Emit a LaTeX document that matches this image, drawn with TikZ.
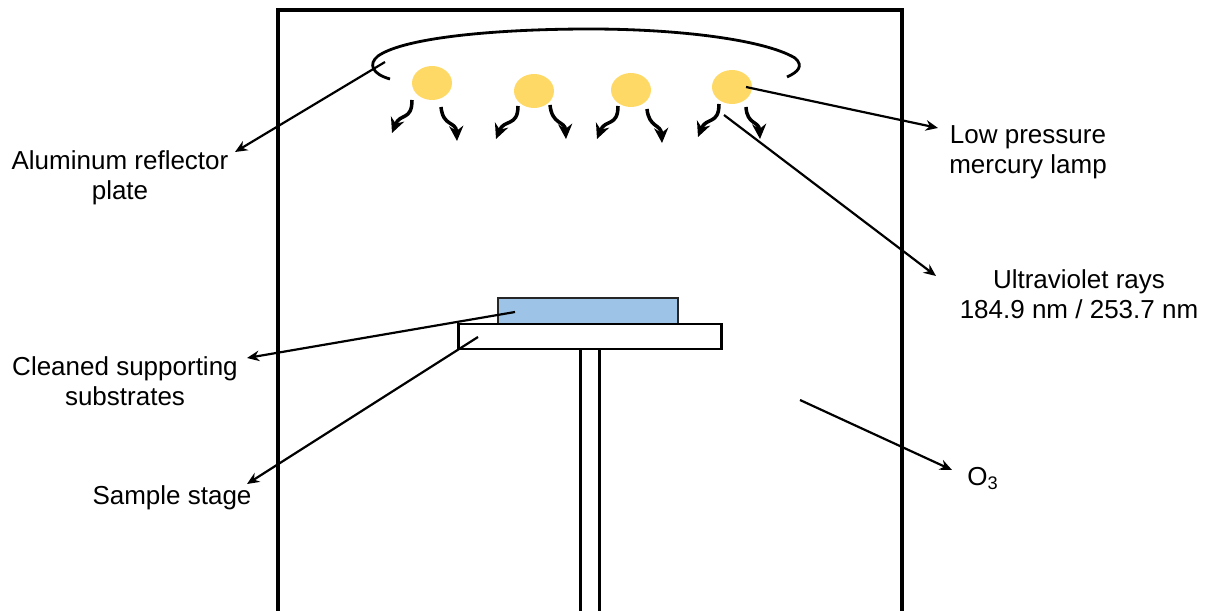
\documentclass[tikz,border=0pt]{standalone}
\usepackage{fontspec}
\setmainfont{Liberation Sans}
\usepackage{xcolor}
\usetikzlibrary{shapes.geometric, arrows.meta, positioning}
\definecolor{lampyellow}{HTML}{FFD966}
\definecolor{substrateblue}{HTML}{9DC3E6}

\begin{document}
\begin{tikzpicture}[
    x=0.02cm, y=-0.02cm,
    wall/.style={line width=2pt, black},
    lamp/.style={ellipse, fill=lampyellow, minimum width=0.8cm, minimum height=0.68cm, inner sep=0pt},
    platebox/.style={rectangle, draw=black, line width=1.7pt, inner sep=0pt},
    subbox/.style={rectangle, draw=black!85, fill=substrateblue, line width=1.1pt, inner sep=0pt},
    ray/.style={-{Stealth[length=8.5pt, width=8pt]}, line width=2pt, black},
    leader/.style={-{Stealth[length=7pt, width=6pt]}, line width=1.25pt, black},
    labelstyle/.style={font=\fontsize{14.8}{17.1}\selectfont, align=center, inner sep=0pt}
]
\useasboundingbox (0,0) rectangle (1207,611);

% === Chamber ===
\coordinate (wallbl) at (278,611);
\coordinate (walltl) at (278,10);
\coordinate (walltr) at (902,10);
\coordinate (wallbr) at (902,611);
\draw[wall] (wallbl) -- (walltl) -- (walltr) -- (wallbr);

% === Reflector ===
\coordinate (reflstart) at (390,79);
\coordinate (reflend) at (787,77);
\draw[line width=1.6pt] (reflstart) .. controls (372,74) and (368,64) .. (378,56)
    .. controls (405,37) and (500,29) .. (590,29)
    .. controls (680,29) and (765,40) .. (795,58)
    .. controls (804,66) and (798,72) .. (reflend);

% === Lamps ===
\node[lamp] (lampa) at (432,83) {};
\node[lamp] (lampb) at (534,91) {};
\node[lamp] (lampc) at (631,90) {};
\node[lamp] (lampd) at (732,87) {};

% === Rays ===
\draw[ray] ([shift={(-20,17)}]lampa.center) .. controls ([shift={(-20,38)}]lampa.center) and ([shift={(-32,30)}]lampa.center) .. ([shift={(-40,50)}]lampa.center);
\draw[ray] ([shift={(9,24)}]lampa.center) .. controls ([shift={(11,44)}]lampa.center) and ([shift={(24,38)}]lampa.center) .. ([shift={(25,58)}]lampa.center);
\draw[ray] ([shift={(-16,15)}]lampb.center) .. controls ([shift={(-16,36)}]lampb.center) and ([shift={(-30,28)}]lampb.center) .. ([shift={(-38,48)}]lampb.center);
\draw[ray] ([shift={(16,14)}]lampb.center) .. controls ([shift={(18,34)}]lampb.center) and ([shift={(31,30)}]lampb.center) .. ([shift={(32,48)}]lampb.center);
\draw[ray] ([shift={(-13,16)}]lampc.center) .. controls ([shift={(-13,37)}]lampc.center) and ([shift={(-26,29)}]lampc.center) .. ([shift={(-34,49)}]lampc.center);
\draw[ray] ([shift={(16,19)}]lampc.center) .. controls ([shift={(18,38)}]lampc.center) and ([shift={(30,34)}]lampc.center) .. ([shift={(31,53)}]lampc.center);
\draw[ray] ([shift={(-13,17)}]lampd.center) .. controls ([shift={(-13,38)}]lampd.center) and ([shift={(-26,30)}]lampd.center) .. ([shift={(-34,50)}]lampd.center);
\draw[ray] ([shift={(14,20)}]lampd.center) .. controls ([shift={(15,38)}]lampd.center) and ([shift={(27,34)}]lampd.center) .. ([shift={(28,52)}]lampd.center);

% === Sample stage ===
\coordinate (postla) at (580,349);
\coordinate (postlb) at (580,611);
\coordinate (postra) at (599,349);
\coordinate (postrb) at (599,611);
\draw[platebox] (postla) -- (postlb);
\draw[platebox] (postra) -- (postrb);
\node[subbox, minimum width=3.6cm, minimum height=0.52cm] (substrate) at (588,311) {};
\node[platebox, minimum width=5.28cm, minimum height=0.5cm] (stage) at (590,336.5) {};

% === Labels ===
\node[labelstyle] (refllabel) at (120,178) {Aluminum reflector\\plate};
\node[labelstyle] (lamplabel) at (1028,152) {Low pressure\\mercury lamp};
\node[labelstyle] (uvlabel) at (1079,294) {Ultraviolet rays\\184.9 nm / 253.7 nm};
\node[labelstyle] (sublabel) at (125,381) {Cleaned supporting\\substrates};
\node[labelstyle] (stagelabel) at (172,498) {Sample stage};
\node[labelstyle] (ozonelabel) at (983,479) {O\textsubscript{3}};

% === Leader arrows ===
\coordinate (reflfrom) at (385,62);
\coordinate (reflto) at (235,152);
\coordinate (lampfrom) at (746,87);
\coordinate (lampto) at (938,128);
\coordinate (uvfrom) at (724,115);
\coordinate (uvto) at (936,276);
\coordinate (subfrom) at (515,312);
\coordinate (subto) at (247,358);
\coordinate (stagefrom) at (478,337);
\coordinate (stageto) at (247,484);
\coordinate (ozonefrom) at (800,400);
\coordinate (ozoneto) at (952,470);
\draw[leader] (reflfrom) -- (reflto);
\draw[leader] (lampfrom) -- (lampto);
\draw[leader] (uvfrom) -- (uvto);
\draw[leader] (subfrom) -- (subto);
\draw[leader] (stagefrom) -- (stageto);
\draw[leader] (ozonefrom) -- (ozoneto);

\end{tikzpicture}
\end{document}
